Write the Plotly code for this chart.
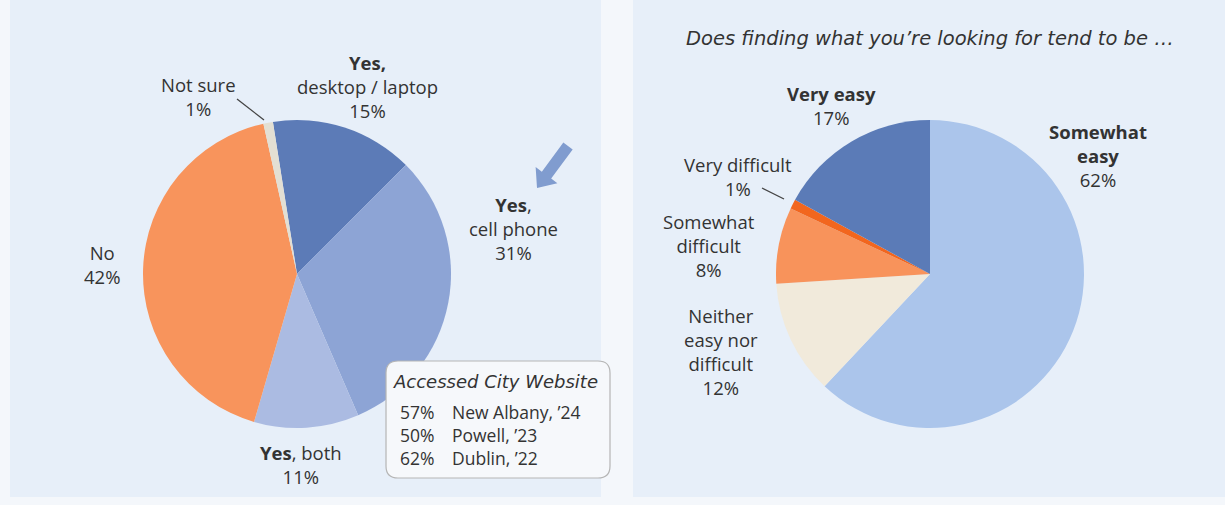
import math
import plotly.graph_objects as go

W, H = 1225, 505

# ---- data ----
access_labels = ["Yes, desktop / laptop", "Yes, cell phone", "Yes, both", "No", "Not sure"]
access_values = [15, 31, 11, 42, 1]
access_colors = ["#5c7bb7", "#8da4d5", "#abbbe2", "#f8945c", "#e3dfd3"]

ease_labels = ["Somewhat easy", "Neither easy nor difficult", "Somewhat difficult", "Very difficult", "Very easy"]
ease_values = [62, 12, 8, 1, 17]
ease_colors = ["#abc5eb", "#f1eadb", "#f8935b", "#f2661e", "#5b7bb7"]

bench_pct = ["57%", "50%", "62%"]
bench_city = ["New Albany, \u201924", "Powell, \u201923", "Dublin, \u201922"]

title_right = "Does finding what you\u2019re looking for tend to be \u2026"
box_title = "Accessed City Website"


def px(x):
    return x / W


def py(y):
    return 1 - y / H


TXT = "#333333"
FONT = "Open Sans"
FS = 18.5

fig = go.Figure()

# left pie
cx, cy, r = 297, 274, 154
fig.add_trace(go.Pie(
    labels=access_labels, values=access_values, sort=False, direction="clockwise",
    rotation=-9, marker=dict(colors=access_colors, line=dict(width=0)),
    textinfo="none", hoverinfo="label+percent", showlegend=False,
    domain=dict(x=[px(cx - r), px(cx + r)], y=[py(cy + r), py(cy - r)]),
))

# right pie
cx2, cy2, r2 = 930, 274, 154
fig.add_trace(go.Pie(
    labels=ease_labels, values=ease_values, sort=False, direction="clockwise",
    rotation=0, marker=dict(colors=ease_colors, line=dict(width=0)),
    textinfo="none", hoverinfo="label+percent", showlegend=False,
    domain=dict(x=[px(cx2 - r2), px(cx2 + r2)], y=[py(cy2 + r2), py(cy2 - r2)]),
))

shapes = []
# panels
for x0, x1 in [(10, 601), (633, 1225)]:
    shapes.append(dict(type="rect", xref="paper", yref="paper", x0=px(x0), x1=px(x1), y0=py(497), y1=py(0),
                       fillcolor="#e7eff9", line=dict(width=0), layer="below"))

# leader lines
shapes.append(dict(type="line", xref="paper", yref="paper", x0=px(237), y0=py(99), x1=px(264), y1=py(120),
                   line=dict(color="#444444", width=1.3)))
shapes.append(dict(type="line", xref="paper", yref="paper", x0=px(762), y0=py(188), x1=px(784), y1=py(199),
                   line=dict(color="#444444", width=1.3)))

# block arrow (tail -> tip)
tail, tip = (568, 146), (537, 188)
dx, dy = tip[0] - tail[0], tip[1] - tail[1]
L = math.hypot(dx, dy)
ux, uy = dx / L, dy / L
nx, ny = -uy, ux
sw, hw, hl = 5.8, 13.5, 16
bx, by = tip[0] - ux * hl, tip[1] - uy * hl
pts = [
    (tail[0] + nx * sw, tail[1] + ny * sw),
    (bx + nx * sw, by + ny * sw),
    (bx + nx * hw, by + ny * hw),
    tip,
    (bx - nx * hw, by - ny * hw),
    (bx - nx * sw, by - ny * sw),
    (tail[0] - nx * sw, tail[1] - ny * sw),
]
apath = "M " + " L ".join(f"{px(a)},{py(b)}" for a, b in pts) + " Z"
shapes.append(dict(type="path", xref="paper", yref="paper", path=apath,
                   fillcolor="#809ccf", line=dict(width=0)))

# rounded box
bx0, bx1, by0, by1, rr = 386, 610, 361, 478, 12
path = (f"M {px(bx0 + rr)},{py(by0)} L {px(bx1 - rr)},{py(by0)} "
        f"Q {px(bx1)},{py(by0)} {px(bx1)},{py(by0 + rr)} "
        f"L {px(bx1)},{py(by1 - rr)} Q {px(bx1)},{py(by1)} {px(bx1 - rr)},{py(by1)} "
        f"L {px(bx0 + rr)},{py(by1)} Q {px(bx0)},{py(by1)} {px(bx0)},{py(by1 - rr)} "
        f"L {px(bx0)},{py(by0 + rr)} Q {px(bx0)},{py(by0)} {px(bx0 + rr)},{py(by0)} Z")
shapes.append(dict(type="path", xref="paper", yref="paper", path=path,
                   fillcolor="#f6f8fb", line=dict(color="#b5b5b5", width=1.2), layer="above"))

annotations = []


def ann(x, y, text, size=FS, xanchor="center", align="center", italic=False, color=TXT, family=FONT):
    f = dict(family=family, size=size, color=color)
    if italic:
        f["style"] = "italic"
    annotations.append(dict(x=px(x), y=py(y), xref="paper", yref="paper", text=text, showarrow=False,
                            xanchor=xanchor, yanchor="middle", align=align, font=f, borderpad=0))


def block(x, yc, lines):
    ann(x, yc, "<br>".join(lines))


# left labels (y = centre of each block)
block(367, 86, ["<b>Yes,</b>", "desktop / laptop", "15%"])
block(198, 96.5, ["Not sure", "1%"])
block(513, 229, ["<b>Yes</b>,", "cell phone", "31%"])
block(102, 264.5, ["No", "42%"])
block(301, 464.5, ["<b>Yes</b>, both", "11%"])

# box text
ann(495, 381, box_title, size=18, italic=True, family="DejaVu Sans")
ann(399, 434.5, "<br>".join(bench_pct), xanchor="left", align="left", size=17.5)
ann(451, 434.5, "<br>".join(bench_city), xanchor="left", align="left", size=17.5)

# right labels
ann(930, 39, title_right, size=19.5, italic=True, family="DejaVu Sans")
block(831, 106, ["<b>Very easy</b>", "17%"])
block(1098, 155, ["<b>Somewhat</b>", "<b>easy</b>", "62%"])
block(738, 176, ["Very difficult", "1%"])
block(709, 245, ["Somewhat", "difficult", "8%"])
block(721, 351.5, ["Neither", "easy nor", "difficult", "12%"])

fig.update_layout(
    width=W, height=H, margin=dict(l=0, r=0, t=0, b=0),
    paper_bgcolor="#f4f7fb", plot_bgcolor="#f4f7fb",
    shapes=shapes, annotations=annotations, showlegend=False,
)

fig.write_html("out.html", config={"displayModeBar": False},
               post_script="document.body.style.margin='0';")
